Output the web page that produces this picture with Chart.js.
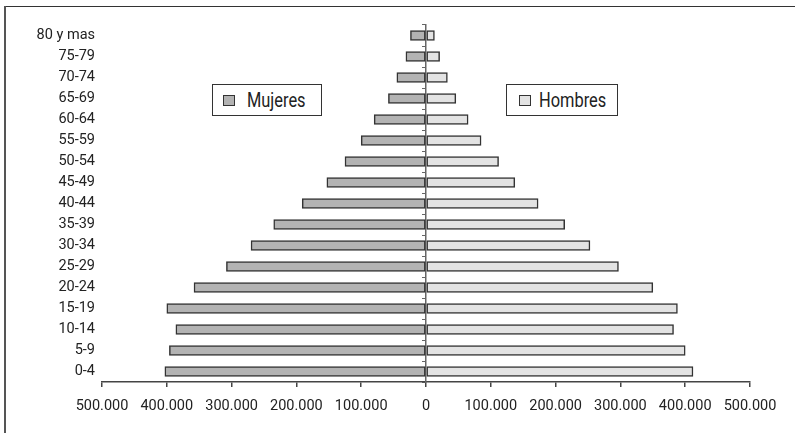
<!DOCTYPE html>
<html>
<head>
<meta charset="utf-8">
<script src="https://cdn.jsdelivr.net/npm/chart.js@4/dist/chart.umd.min.js"></script>
<style>
  body { margin: 0; background: #fff; }
  #wrap { position: relative; width: 795px; height: 433px; overflow: hidden; }
  #frameTop { position: absolute; left: 5px; top: 6px; width: 790px; height: 0; border-top: 1.5px solid #333; }
  #frameLeft { position: absolute; left: 4px; top: 6px; width: 0; height: 427px; border-left: 2px solid #555; }
  canvas { position: absolute; left: 0; top: 0; }
  .leg {
    position: absolute; height: 30px; border: 1.5px solid #333; background: #fff;
    font-family: Roboto, "Liberation Sans", sans-serif; white-space: nowrap;
  }
  .leg .box {
    position: absolute; top: 9.5px; width: 10px; height: 9px; border: 1.5px solid #333;
  }
  .leg .txt {
    position: absolute; top: 0; line-height: 30px; font-size: 20px; color: #222;
    transform: scaleX(0.82); transform-origin: left center;
  }
</style>
</head>
<body>
<div id="wrap">
  <canvas id="myChart" width="795" height="433"></canvas>
  <div id="frameTop"></div>
  <div id="frameLeft"></div>
  <div class="leg" style="left:212px; top:84px; width:108px;">
    <span class="box" id="boxM" style="left:10px;"></span><span class="txt" style="left:34px;">Mujeres</span>
  </div>
  <div class="leg" style="left:506px; top:84px; width:110px;">
    <span class="box" id="boxH" style="left:12px;"></span><span class="txt" style="left:32px;">Hombres</span>
  </div>
</div>
<script>
// age groups, bottom to top
const ages = ["0-4", "5-9", "10-14", "15-19", "20-24", "25-29", "30-34", "35-39", "40-44",
  "45-49", "50-54", "55-59", "60-64", "65-69", "70-74", "75-79", "80 y mas"];

// population per group
const mujeres = [403000, 396000, 386000, 400000, 358000, 308000, 270000, 235000, 191000,
  153000, 125000, 100000, 80000, 58000, 45000, 31000, 24000];
const hombres = [412000, 400000, 382000, 388000, 350000, 297000, 253000, 214000, 173000,
  137000, 112000, 85000, 65000, 46000, 33000, 21000, 13000];

// x ticks
const xTicks = [-500000, -400000, -300000, -200000, -100000, 0, 100000, 200000, 300000, 400000, 500000];

const colorM = "#b3b3b3";
const colorH = "#e3e3e3";
document.getElementById("boxM").style.background = colorM;
document.getElementById("boxH").style.background = colorH;

const fontFam = 'Roboto, "Liberation Sans", sans-serif';

// 500000 -> "500.000"
let fmt = (v) => String(Math.abs(v)).replace(/\B(?=(\d{3})+(?!\d))/g, ".");

let ctx = document.getElementById("myChart").getContext("2d");
let myChart = new Chart(ctx, {
  type: "bar",
  data: {
    labels: ages,
    datasets: [
      {
        label: "Mujeres",
        data: mujeres.map((v) => -v),
        backgroundColor: colorM,
        borderColor: "#333",
        borderWidth: 1.5,
        borderSkipped: false,
        barThickness: 10,
      },
      {
        label: "Hombres",
        data: hombres,
        backgroundColor: colorH,
        borderColor: "#333",
        borderWidth: 1.5,
        borderSkipped: false,
        barThickness: 10,
      },
    ],
  },
  options: {
    indexAxis: "y",
    responsive: false,
    animation: false,
    layout: { padding: { left: 0, right: 45, top: 25, bottom: 0 } },
    plugins: {
      legend: { display: false },
      tooltip: { enabled: false },
    },
    scales: {
      x: {
        type: "linear",
        stacked: true,
        min: -500000,
        max: 500000,
        afterBuildTicks: (scale) => {
          scale.ticks = xTicks.map((v) => ({ value: v }));
        },
        afterFit: (scale) => {
          scale.height = 51;
        },
        ticks: {
          callback: (v) => fmt(v),
          color: "#222",
          padding: 11,
          maxRotation: 0,
          autoSkip: false,
          font: { family: fontFam, size: 14.5 },
        },
        grid: { drawOnChartArea: false, drawTicks: true, tickLength: 5, color: "#444", lineWidth: 1.5 },
        border: { display: true, color: "#444", width: 1.5 },
      },
      y: {
        stacked: true,
        reverse: true,
        afterFit: (scale) => {
          scale.width = 102;
        },
        ticks: {
          color: "#222",
          padding: 7,
          autoSkip: false,
          font: { family: fontFam, size: 14.5 },
        },
        grid: { display: false, drawTicks: false },
        border: { display: false },
      },
      // center line with small ticks between groups
      y2: {
        type: "category",
        axis: "y",
        labels: ages,
        reverse: true,
        offset: true,
        position: { x: 0 },
        ticks: { display: false },
        grid: { offset: true, drawOnChartArea: false, drawTicks: true, tickLength: 3, color: "#666", lineWidth: 1 },
        border: { display: true, color: "#666", width: 1.5 },
      },
    },
  },
});
</script>
</body>
</html>
